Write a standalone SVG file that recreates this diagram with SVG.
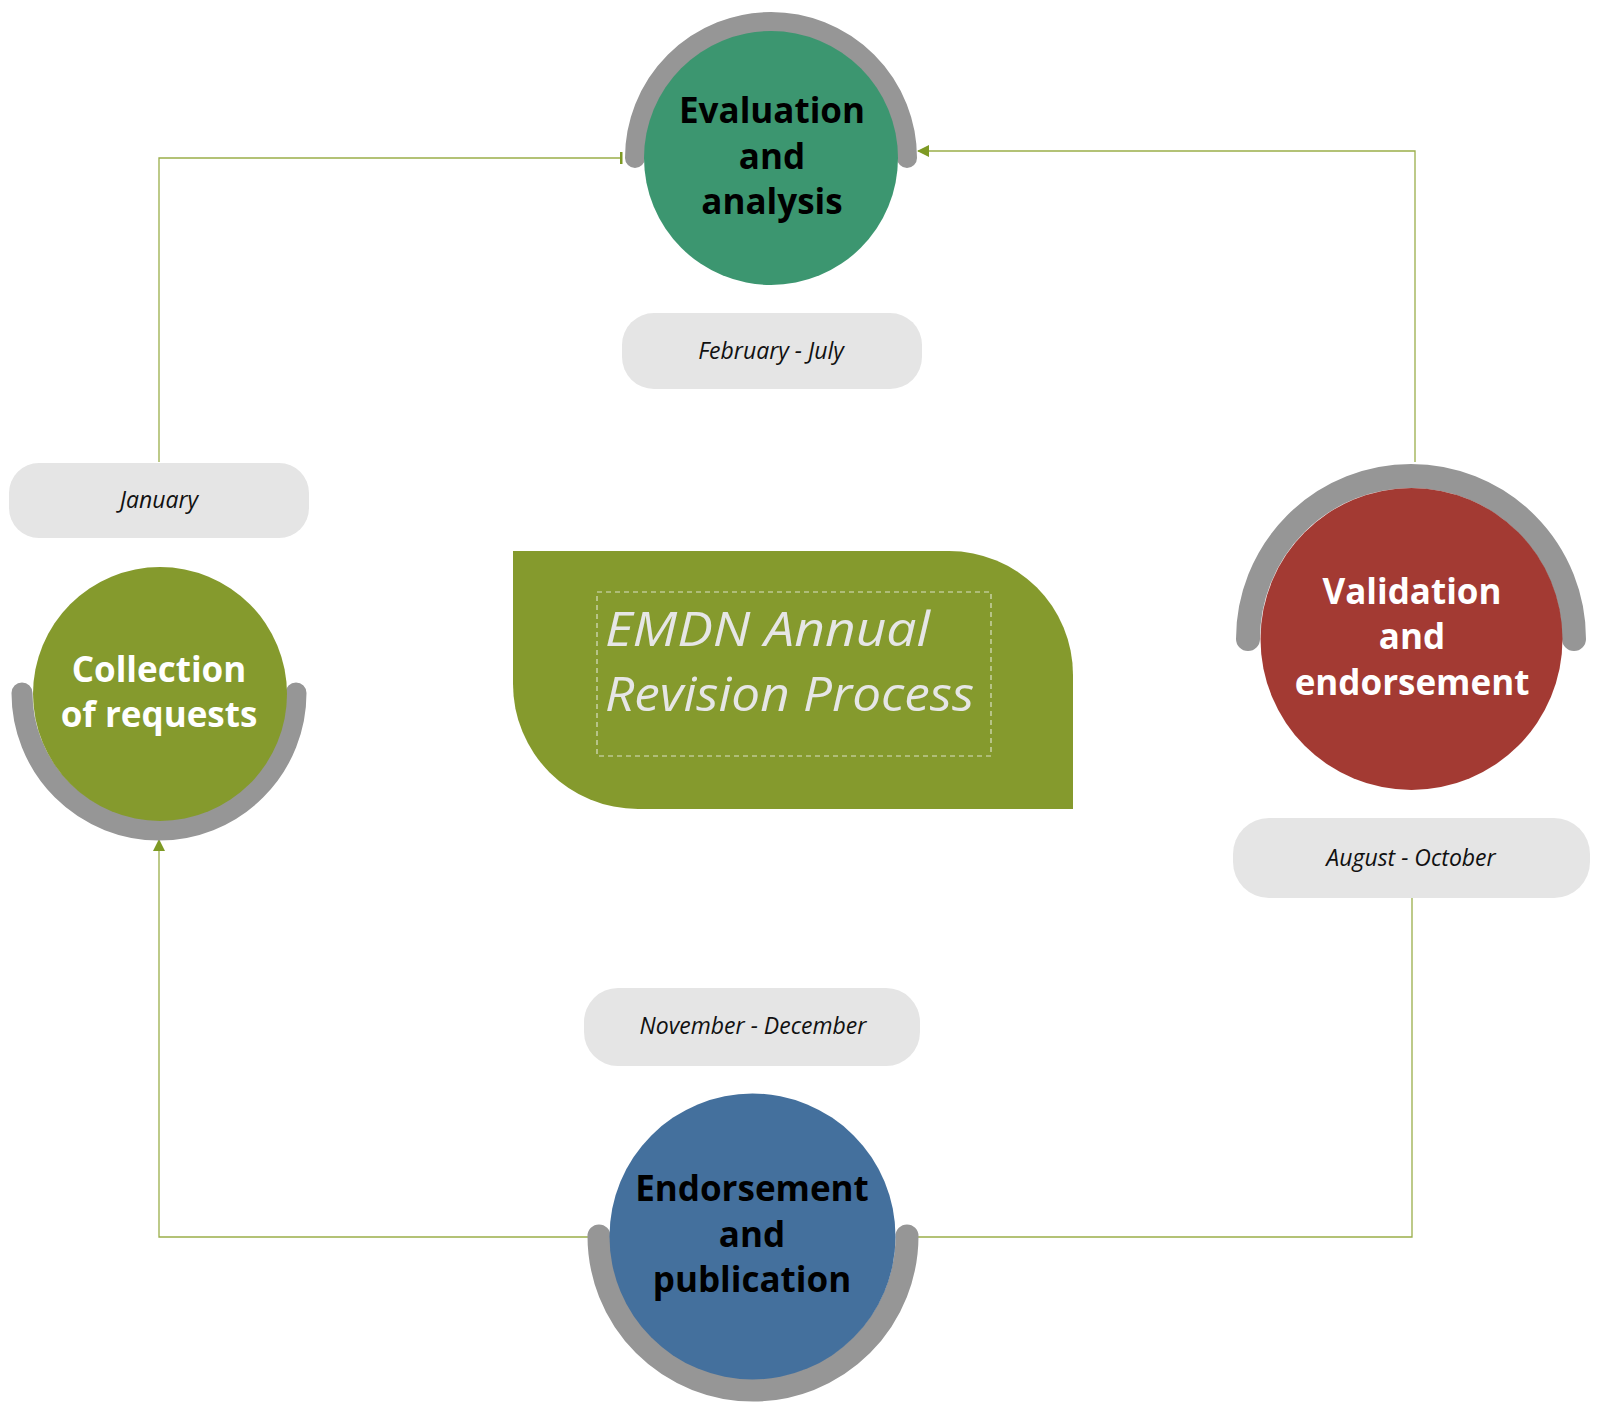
<svg xmlns="http://www.w3.org/2000/svg" width="1600" height="1412" viewBox="0 0 1600 1412">
<defs>
<marker id="arr" viewBox="0 0 12 12" refX="11" refY="6" markerWidth="12" markerHeight="12" markerUnits="userSpaceOnUse" orient="auto">
<path d="M0,0 L12,6 L0,12 Z" fill="#7E9A24"/>
</marker>
<marker id="tick" viewBox="0 0 4 12" refX="3" refY="6" markerWidth="4" markerHeight="12" markerUnits="userSpaceOnUse" orient="auto">
<rect x="1" y="0" width="2.5" height="12" fill="#7E9A24"/>
</marker>
</defs>
<style>
.bg{fill:#ffffff}
.arc{fill:none;stroke:#969696;stroke-linecap:round}
.pill{fill:#E5E5E5}
.date{font-family:"Open Sans","Noto Sans","Liberation Sans",sans-serif;font-style:italic;font-size:23px;fill:#111111;text-anchor:middle}
.lbl{font-family:"Open Sans","Noto Sans","Liberation Sans",sans-serif;font-weight:bold;font-size:35px;text-anchor:middle}
.conn{fill:none;stroke:#9AAE4A;stroke-width:1.3}
.title{font-family:"Open Sans","Noto Sans","Liberation Sans",sans-serif;font-style:italic;font-size:48px;fill:#E6E6E6}
</style>
<rect class="bg" x="0" y="0" width="1600" height="1412"/>

<g id="connectors">
<path class="conn" d="M159,462 V158 H622" marker-end="url(#tick)"/>
<path class="conn" d="M1415,462 V151 H918" marker-end="url(#arr)"/>
<path class="conn" d="M1412,898 V1237 H918"/>
<path class="conn" d="M590,1237 H159 V840" marker-end="url(#arr)"/>
</g>

<g id="title">
<path d="M513,551 H949 A124,124 0 0 1 1073,675 V809 H638 A125,125 0 0 1 513,684 Z" fill="#859A2D"/>
<rect x="597" y="592" width="394" height="164" fill="none" stroke="#D9DFC4" stroke-width="1.2" stroke-dasharray="5,4"/>
<text class="title" x="605" y="646" textLength="325" lengthAdjust="spacingAndGlyphs">EMDN Annual</text>
<text class="title" x="605" y="711" textLength="369" lengthAdjust="spacingAndGlyphs">Revision Process</text>
</g>

<g id="evaluation">
<path class="arc" d="M635,158 A136,136 0 0 1 907,158" stroke-width="20"/>
<circle cx="771" cy="158" r="127" fill="#3C9670"/>
<text class="lbl" x="772" y="123" fill="#000000">Evaluation</text>
<text class="lbl" x="772" y="169" fill="#000000">and</text>
<text class="lbl" x="772" y="214" fill="#000000">analysis</text>
</g>
<g id="feb">
<rect class="pill" x="622" y="313" width="300" height="76" rx="32"/>
<text class="date" x="771" y="359">February - July</text>
</g>

<g id="collection">
<path class="arc" d="M22,693 A137,137 0 0 0 296,693" stroke-width="21"/>
<circle cx="160" cy="694" r="127" fill="#859A2D"/>
<text class="lbl" x="159" y="682" fill="#ffffff">Collection</text>
<text class="lbl" x="159" y="727" fill="#ffffff">of requests</text>
</g>
<g id="jan">
<rect class="pill" x="9" y="463" width="300" height="75" rx="30"/>
<text class="date" x="159" y="508">January</text>
</g>

<g id="validation">
<path class="arc" d="M1248,639 A163,163 0 0 1 1574,639" stroke-width="24"/>
<circle cx="1411.5" cy="639" r="151" fill="#A33A33"/>
<text class="lbl" x="1412" y="604" fill="#ffffff">Validation</text>
<text class="lbl" x="1412" y="649" fill="#ffffff">and</text>
<text class="lbl" x="1412" y="695" fill="#ffffff">endorsement</text>
</g>
<g id="aug">
<rect class="pill" x="1233" y="818" width="357" height="80" rx="36"/>
<text class="date" x="1411" y="866">August - October</text>
</g>

<g id="endorsement">
<path class="arc" d="M599,1236 A154,154 0 0 0 907,1236" stroke-width="23"/>
<circle cx="752.5" cy="1236.5" r="143" fill="#44709D"/>
<text class="lbl" x="752" y="1201" fill="#000000">Endorsement</text>
<text class="lbl" x="752" y="1247" fill="#000000">and</text>
<text class="lbl" x="752" y="1292" fill="#000000">publication</text>
</g>
<g id="nov">
<rect class="pill" x="584" y="988" width="336" height="78" rx="34"/>
<text class="date" x="753" y="1034">November - December</text>
</g>
</svg>
